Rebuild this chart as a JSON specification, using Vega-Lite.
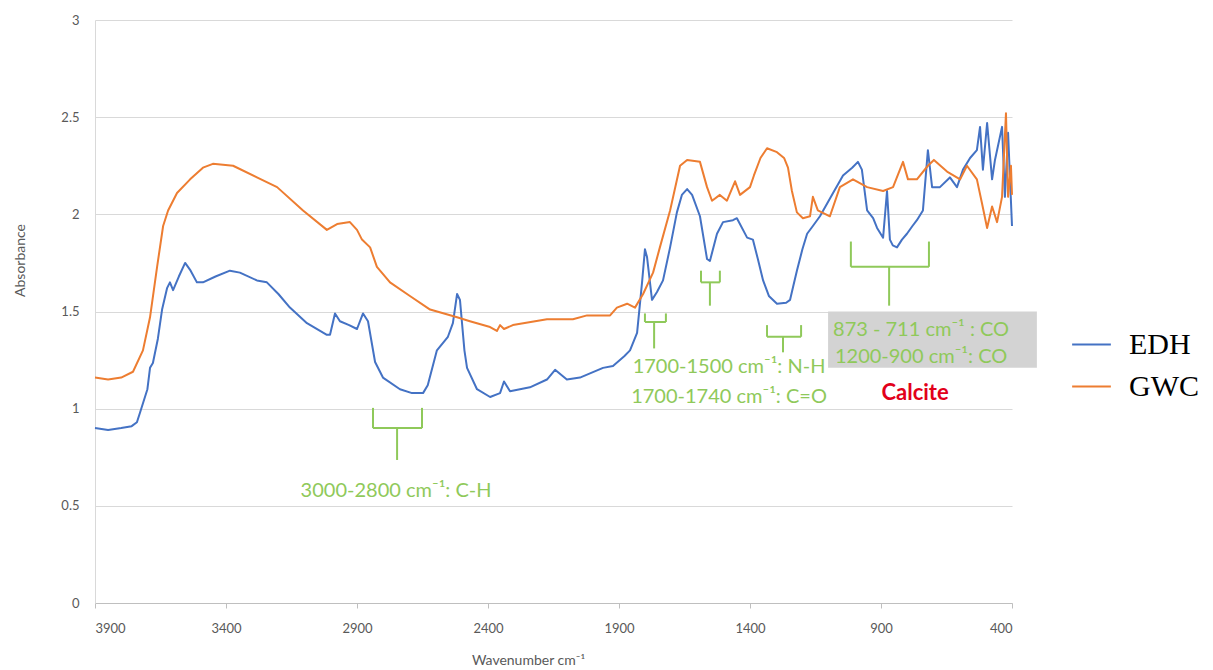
{
  "$schema": "https://vega.github.io/schema/vega-lite/v6.json",
  "width": 917,
  "height": 583,
  "autosize": {"type": "none"},
  "padding": {"left": 95, "top": 20, "right": 201, "bottom": 67},
  "background": "white",
  "config": {"view": {"stroke": null}},
  "datasets": {
    "spectra": [
      {"wn":3900,"A":0.90,"sample":"EDH"},{"wn":3850,"A":0.89,"sample":"EDH"},{"wn":3800,"A":0.90,"sample":"EDH"},{"wn":3760,"A":0.91,"sample":"EDH"},{"wn":3740,"A":0.93,"sample":"EDH"},{"wn":3728,"A":0.98,"sample":"EDH"},{"wn":3700,"A":1.10,"sample":"EDH"},{"wn":3690,"A":1.21,"sample":"EDH"},{"wn":3679,"A":1.235,"sample":"EDH"},{"wn":3660,"A":1.36,"sample":"EDH"},{"wn":3644,"A":1.51,"sample":"EDH"},{"wn":3625,"A":1.62,"sample":"EDH"},{"wn":3614,"A":1.65,"sample":"EDH"},{"wn":3602,"A":1.61,"sample":"EDH"},{"wn":3580,"A":1.68,"sample":"EDH"},{"wn":3556,"A":1.75,"sample":"EDH"},{"wn":3535,"A":1.71,"sample":"EDH"},{"wn":3511,"A":1.65,"sample":"EDH"},{"wn":3488,"A":1.65,"sample":"EDH"},{"wn":3440,"A":1.68,"sample":"EDH"},{"wn":3385,"A":1.71,"sample":"EDH"},{"wn":3347,"A":1.70,"sample":"EDH"},{"wn":3282,"A":1.66,"sample":"EDH"},{"wn":3244,"A":1.65,"sample":"EDH"},{"wn":3200,"A":1.59,"sample":"EDH"},{"wn":3156,"A":1.52,"sample":"EDH"},{"wn":3091,"A":1.44,"sample":"EDH"},{"wn":3015,"A":1.38,"sample":"EDH"},{"wn":3003,"A":1.38,"sample":"EDH"},{"wn":2984,"A":1.49,"sample":"EDH"},{"wn":2965,"A":1.45,"sample":"EDH"},{"wn":2930,"A":1.43,"sample":"EDH"},{"wn":2900,"A":1.41,"sample":"EDH"},{"wn":2877,"A":1.49,"sample":"EDH"},{"wn":2858,"A":1.45,"sample":"EDH"},{"wn":2831,"A":1.24,"sample":"EDH"},{"wn":2801,"A":1.16,"sample":"EDH"},{"wn":2736,"A":1.10,"sample":"EDH"},{"wn":2690,"A":1.08,"sample":"EDH"},{"wn":2648,"A":1.08,"sample":"EDH"},{"wn":2630,"A":1.12,"sample":"EDH"},{"wn":2595,"A":1.30,"sample":"EDH"},{"wn":2553,"A":1.37,"sample":"EDH"},{"wn":2534,"A":1.44,"sample":"EDH"},{"wn":2518,"A":1.59,"sample":"EDH"},{"wn":2507,"A":1.56,"sample":"EDH"},{"wn":2490,"A":1.30,"sample":"EDH"},{"wn":2480,"A":1.21,"sample":"EDH"},{"wn":2442,"A":1.10,"sample":"EDH"},{"wn":2392,"A":1.06,"sample":"EDH"},{"wn":2354,"A":1.08,"sample":"EDH"},{"wn":2339,"A":1.14,"sample":"EDH"},{"wn":2316,"A":1.09,"sample":"EDH"},{"wn":2240,"A":1.11,"sample":"EDH"},{"wn":2175,"A":1.15,"sample":"EDH"},{"wn":2144,"A":1.20,"sample":"EDH"},{"wn":2099,"A":1.15,"sample":"EDH"},{"wn":2049,"A":1.16,"sample":"EDH"},{"wn":1961,"A":1.21,"sample":"EDH"},{"wn":1923,"A":1.22,"sample":"EDH"},{"wn":1880,"A":1.27,"sample":"EDH"},{"wn":1858,"A":1.30,"sample":"EDH"},{"wn":1831,"A":1.39,"sample":"EDH"},{"wn":1812,"A":1.65,"sample":"EDH"},{"wn":1801,"A":1.82,"sample":"EDH"},{"wn":1793,"A":1.78,"sample":"EDH"},{"wn":1774,"A":1.56,"sample":"EDH"},{"wn":1755,"A":1.60,"sample":"EDH"},{"wn":1732,"A":1.66,"sample":"EDH"},{"wn":1705,"A":1.83,"sample":"EDH"},{"wn":1679,"A":2.01,"sample":"EDH"},{"wn":1660,"A":2.10,"sample":"EDH"},{"wn":1640,"A":2.13,"sample":"EDH"},{"wn":1621,"A":2.10,"sample":"EDH"},{"wn":1591,"A":1.99,"sample":"EDH"},{"wn":1564,"A":1.77,"sample":"EDH"},{"wn":1553,"A":1.76,"sample":"EDH"},{"wn":1526,"A":1.90,"sample":"EDH"},{"wn":1503,"A":1.96,"sample":"EDH"},{"wn":1465,"A":1.97,"sample":"EDH"},{"wn":1450,"A":1.98,"sample":"EDH"},{"wn":1411,"A":1.88,"sample":"EDH"},{"wn":1389,"A":1.87,"sample":"EDH"},{"wn":1370,"A":1.77,"sample":"EDH"},{"wn":1350,"A":1.66,"sample":"EDH"},{"wn":1328,"A":1.58,"sample":"EDH"},{"wn":1297,"A":1.54,"sample":"EDH"},{"wn":1262,"A":1.545,"sample":"EDH"},{"wn":1247,"A":1.56,"sample":"EDH"},{"wn":1235,"A":1.63,"sample":"EDH"},{"wn":1221,"A":1.71,"sample":"EDH"},{"wn":1200,"A":1.82,"sample":"EDH"},{"wn":1182,"A":1.90,"sample":"EDH"},{"wn":1160,"A":1.94,"sample":"EDH"},{"wn":1133,"A":1.99,"sample":"EDH"},{"wn":1083,"A":2.11,"sample":"EDH"},{"wn":1045,"A":2.20,"sample":"EDH"},{"wn":1010,"A":2.24,"sample":"EDH"},{"wn":988,"A":2.27,"sample":"EDH"},{"wn":973,"A":2.23,"sample":"EDH"},{"wn":953,"A":2.02,"sample":"EDH"},{"wn":930,"A":1.98,"sample":"EDH"},{"wn":915,"A":1.93,"sample":"EDH"},{"wn":892,"A":1.88,"sample":"EDH"},{"wn":877,"A":2.12,"sample":"EDH"},{"wn":866,"A":1.87,"sample":"EDH"},{"wn":855,"A":1.84,"sample":"EDH"},{"wn":839,"A":1.83,"sample":"EDH"},{"wn":820,"A":1.87,"sample":"EDH"},{"wn":801,"A":1.90,"sample":"EDH"},{"wn":780,"A":1.94,"sample":"EDH"},{"wn":763,"A":1.97,"sample":"EDH"},{"wn":740,"A":2.02,"sample":"EDH"},{"wn":721,"A":2.33,"sample":"EDH"},{"wn":705,"A":2.14,"sample":"EDH"},{"wn":675,"A":2.14,"sample":"EDH"},{"wn":637,"A":2.19,"sample":"EDH"},{"wn":610,"A":2.14,"sample":"EDH"},{"wn":587,"A":2.23,"sample":"EDH"},{"wn":560,"A":2.29,"sample":"EDH"},{"wn":534,"A":2.33,"sample":"EDH"},{"wn":522,"A":2.45,"sample":"EDH"},{"wn":511,"A":2.23,"sample":"EDH"},{"wn":495,"A":2.47,"sample":"EDH"},{"wn":476,"A":2.18,"sample":"EDH"},{"wn":465,"A":2.28,"sample":"EDH"},{"wn":438,"A":2.45,"sample":"EDH"},{"wn":427,"A":2.09,"sample":"EDH"},{"wn":415,"A":2.42,"sample":"EDH"},{"wn":400,"A":1.94,"sample":"EDH"},
      {"wn":3900,"A":1.16,"sample":"GWC"},{"wn":3850,"A":1.15,"sample":"GWC"},{"wn":3800,"A":1.16,"sample":"GWC"},{"wn":3755,"A":1.19,"sample":"GWC"},{"wn":3717,"A":1.30,"sample":"GWC"},{"wn":3690,"A":1.47,"sample":"GWC"},{"wn":3663,"A":1.73,"sample":"GWC"},{"wn":3640,"A":1.94,"sample":"GWC"},{"wn":3621,"A":2.02,"sample":"GWC"},{"wn":3587,"A":2.11,"sample":"GWC"},{"wn":3537,"A":2.18,"sample":"GWC"},{"wn":3488,"A":2.24,"sample":"GWC"},{"wn":3450,"A":2.26,"sample":"GWC"},{"wn":3373,"A":2.25,"sample":"GWC"},{"wn":3282,"A":2.19,"sample":"GWC"},{"wn":3205,"A":2.14,"sample":"GWC"},{"wn":3106,"A":2.02,"sample":"GWC"},{"wn":3015,"A":1.92,"sample":"GWC"},{"wn":2976,"A":1.95,"sample":"GWC"},{"wn":2927,"A":1.96,"sample":"GWC"},{"wn":2900,"A":1.92,"sample":"GWC"},{"wn":2881,"A":1.87,"sample":"GWC"},{"wn":2850,"A":1.83,"sample":"GWC"},{"wn":2824,"A":1.73,"sample":"GWC"},{"wn":2774,"A":1.65,"sample":"GWC"},{"wn":2698,"A":1.58,"sample":"GWC"},{"wn":2621,"A":1.51,"sample":"GWC"},{"wn":2518,"A":1.47,"sample":"GWC"},{"wn":2469,"A":1.45,"sample":"GWC"},{"wn":2392,"A":1.42,"sample":"GWC"},{"wn":2366,"A":1.40,"sample":"GWC"},{"wn":2354,"A":1.43,"sample":"GWC"},{"wn":2339,"A":1.41,"sample":"GWC"},{"wn":2305,"A":1.43,"sample":"GWC"},{"wn":2175,"A":1.46,"sample":"GWC"},{"wn":2076,"A":1.46,"sample":"GWC"},{"wn":2022,"A":1.48,"sample":"GWC"},{"wn":1934,"A":1.48,"sample":"GWC"},{"wn":1908,"A":1.52,"sample":"GWC"},{"wn":1869,"A":1.54,"sample":"GWC"},{"wn":1839,"A":1.52,"sample":"GWC"},{"wn":1808,"A":1.59,"sample":"GWC"},{"wn":1770,"A":1.70,"sample":"GWC"},{"wn":1744,"A":1.83,"sample":"GWC"},{"wn":1705,"A":2.02,"sample":"GWC"},{"wn":1667,"A":2.25,"sample":"GWC"},{"wn":1640,"A":2.28,"sample":"GWC"},{"wn":1591,"A":2.27,"sample":"GWC"},{"wn":1564,"A":2.14,"sample":"GWC"},{"wn":1545,"A":2.07,"sample":"GWC"},{"wn":1515,"A":2.10,"sample":"GWC"},{"wn":1488,"A":2.07,"sample":"GWC"},{"wn":1457,"A":2.17,"sample":"GWC"},{"wn":1438,"A":2.10,"sample":"GWC"},{"wn":1400,"A":2.14,"sample":"GWC"},{"wn":1385,"A":2.20,"sample":"GWC"},{"wn":1360,"A":2.29,"sample":"GWC"},{"wn":1335,"A":2.34,"sample":"GWC"},{"wn":1297,"A":2.32,"sample":"GWC"},{"wn":1270,"A":2.29,"sample":"GWC"},{"wn":1255,"A":2.24,"sample":"GWC"},{"wn":1240,"A":2.12,"sample":"GWC"},{"wn":1221,"A":2.01,"sample":"GWC"},{"wn":1198,"A":1.98,"sample":"GWC"},{"wn":1171,"A":1.99,"sample":"GWC"},{"wn":1160,"A":2.09,"sample":"GWC"},{"wn":1141,"A":2.02,"sample":"GWC"},{"wn":1095,"A":1.99,"sample":"GWC"},{"wn":1057,"A":2.14,"sample":"GWC"},{"wn":1007,"A":2.18,"sample":"GWC"},{"wn":953,"A":2.14,"sample":"GWC"},{"wn":892,"A":2.12,"sample":"GWC"},{"wn":854,"A":2.14,"sample":"GWC"},{"wn":816,"A":2.27,"sample":"GWC"},{"wn":797,"A":2.18,"sample":"GWC"},{"wn":763,"A":2.18,"sample":"GWC"},{"wn":721,"A":2.25,"sample":"GWC"},{"wn":698,"A":2.28,"sample":"GWC"},{"wn":648,"A":2.22,"sample":"GWC"},{"wn":598,"A":2.18,"sample":"GWC"},{"wn":572,"A":2.25,"sample":"GWC"},{"wn":534,"A":2.18,"sample":"GWC"},{"wn":515,"A":2.06,"sample":"GWC"},{"wn":495,"A":1.93,"sample":"GWC"},{"wn":476,"A":2.04,"sample":"GWC"},{"wn":457,"A":1.96,"sample":"GWC"},{"wn":438,"A":2.09,"sample":"GWC"},{"wn":423,"A":2.52,"sample":"GWC"},{"wn":415,"A":2.09,"sample":"GWC"},{"wn":404,"A":2.25,"sample":"GWC"},{"wn":400,"A":2.10,"sample":"GWC"}
    ],
    "brackets": [
      {"x":2839,"x2":2839,"y":1.004,"y2":0.90},{"x":2839,"x2":2652,"y":0.90,"y2":0.90},{"x":2652,"x2":2652,"y":1.004,"y2":0.90},{"x":2747,"x2":2747,"y":0.90,"y2":0.736},
      {"x":1801,"x2":1801,"y":1.49,"y2":1.446},{"x":1801,"x2":1721,"y":1.446,"y2":1.446},{"x":1721,"x2":1721,"y":1.49,"y2":1.446},{"x":1766,"x2":1766,"y":1.446,"y2":1.31},
      {"x":1587,"x2":1587,"y":1.71,"y2":1.65},{"x":1587,"x2":1515,"y":1.65,"y2":1.65},{"x":1515,"x2":1515,"y":1.71,"y2":1.65},{"x":1553,"x2":1553,"y":1.65,"y2":1.53},
      {"x":1335,"x2":1335,"y":1.43,"y2":1.37},{"x":1335,"x2":1205,"y":1.37,"y2":1.37},{"x":1205,"x2":1205,"y":1.43,"y2":1.37},{"x":1274,"x2":1274,"y":1.37,"y2":1.29},
      {"x":1015,"x2":1015,"y":1.86,"y2":1.73},{"x":1015,"x2":717,"y":1.73,"y2":1.73},{"x":717,"x2":717,"y":1.86,"y2":1.73},{"x":869,"x2":869,"y":1.73,"y2":1.53}
    ],
    "box": [{"x":1102,"x2":305,"y":1.50,"y2":1.21}],
    "labels": [
      {"wn":2751,"A":0.576,"text":"3000-2800 cm⁻¹: C-H","kind":"g"},
      {"wn":1480,"A":1.215,"text":"1700-1500 cm⁻¹: N-H","kind":"g"},
      {"wn":1480,"A":1.06,"text":"1700-1740 cm⁻¹: C=O","kind":"g"},
      {"wn":747,"A":1.405,"text":"873 - 711 cm⁻¹ : CO","kind":"g"},
      {"wn":747,"A":1.266,"text":"1200-900 cm⁻¹: CO","kind":"g"},
      {"wn":770,"A":1.08,"text":"Calcite","kind":"r"}
    ]
  },
  "layer": [
    {
      "data": {"name": "box"},
      "mark": {"type": "rect", "color": "#d3d3d3"},
      "encoding": {
        "x": {"field": "x", "type": "quantitative", "scale": {"domain": [3900, 400], "nice": false, "zero": false}},
        "x2": {"field": "x2"},
        "y": {"field": "y", "type": "quantitative", "scale": {"domain": [0, 3], "nice": false}},
        "y2": {"field": "y2"}
      }
    },
    {
      "data": {"name": "spectra"},
      "mark": {"type": "line", "strokeWidth": 2, "strokeJoin": "round"},
      "encoding": {
        "x": {
          "field": "wn", "type": "quantitative",
          "scale": {"domain": [3900, 400], "nice": false, "zero": false},
          "axis": {
            "title": "Wavenumber cm⁻¹", "format": "d",
            "values": [3900, 3400, 2900, 2400, 1900, 1400, 900, 400],
            "grid": false, "domainColor": "#bfbfbf", "tickColor": "#bfbfbf", "tickSize": 5,
            "labelFont": "Lato", "labelFontSize": 13, "labelColor": "#595959", "labelPadding": 14,
            "titleFont": "Lato", "titleFontSize": 14, "titleFontWeight": "normal", "titleColor": "#595959",
            "titleX": 433, "titleY": 57, "titleBaseline": "middle", "titleAlign": "center"
          }
        },
        "y": {
          "field": "A", "type": "quantitative",
          "scale": {"domain": [0, 3], "nice": false},
          "axis": {
            "title": "Absorbance", "format": "~g",
            "values": [0, 0.5, 1, 1.5, 2, 2.5, 3],
            "gridColor": "#d9d9d9", "domainColor": "#d9d9d9", "ticks": false,
            "labelFont": "Lato", "labelFontSize": 13, "labelColor": "#595959", "labelPadding": 16,
            "titleFont": "Lato", "titleFontSize": 14, "titleFontWeight": "normal", "titleColor": "#595959",
            "titleX": -75, "titleY": 240, "titleAngle": 270, "titleBaseline": "middle", "titleAlign": "center"
          }
        },
        "color": {
          "field": "sample", "type": "nominal",
          "scale": {"domain": ["EDH", "GWC"], "range": ["#4472c4", "#ed7d31"]},
          "legend": {
            "title": null, "orient": "none", "legendX": 976, "legendY": 304,
            "symbolType": "stroke", "symbolSize": 1500, "symbolStrokeWidth": 2,
            "labelFont": "Liberation Serif", "labelFontSize": 30, "labelColor": "#000000",
            "labelOffset": 17, "rowPadding": 6
          }
        }
      }
    },
    {
      "data": {"name": "brackets"},
      "mark": {"type": "rule", "color": "#8fc95a", "strokeWidth": 2},
      "encoding": {
        "x": {"field": "x", "type": "quantitative"},
        "x2": {"field": "x2"},
        "y": {"field": "y", "type": "quantitative"},
        "y2": {"field": "y2"}
      }
    },
    {
      "data": {"name": "labels"},
      "transform": [{"filter": "datum.kind == 'g'"}],
      "mark": {"type": "text", "font": "Lato", "fontSize": 20, "color": "#8fc95a", "align": "center", "baseline": "middle"},
      "encoding": {
        "x": {"field": "wn", "type": "quantitative"},
        "y": {"field": "A", "type": "quantitative"},
        "text": {"field": "text"}
      }
    },
    {
      "data": {"name": "labels"},
      "transform": [{"filter": "datum.kind == 'r'"}],
      "mark": {"type": "text", "font": "Lato", "fontSize": 22, "fontWeight": "bold", "color": "#e2001a", "align": "center", "baseline": "middle"},
      "encoding": {
        "x": {"field": "wn", "type": "quantitative"},
        "y": {"field": "A", "type": "quantitative"},
        "text": {"field": "text"}
      }
    }
  ]
}
